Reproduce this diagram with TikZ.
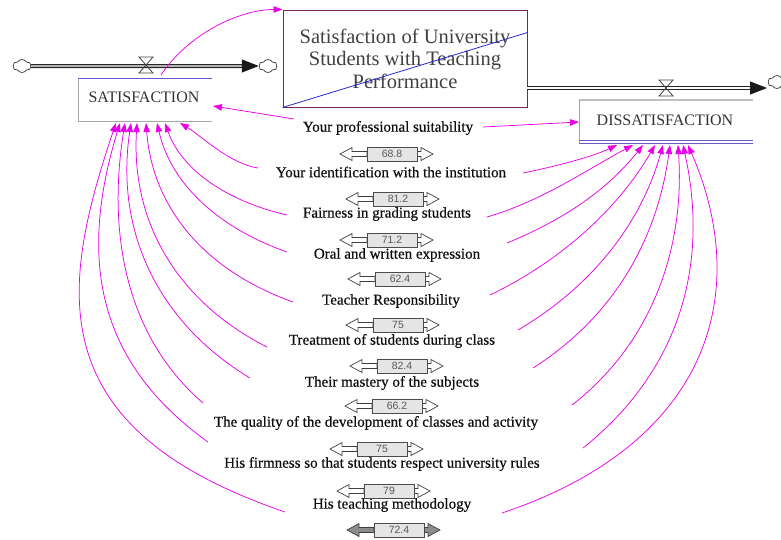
\documentclass[tikz,border=0pt]{standalone}
\usepackage{fontspec}
\setmainfont{Liberation Serif}
\newfontfamily\lblfont{Liberation Serif}[FakeBold=0.5]
\newfontfamily\valfont{Liberation Sans}
\usetikzlibrary{arrows.meta,calc,shapes.symbols}

\definecolor{connc}{RGB}{232,0,232}
\definecolor{titlebord}{RGB}{120,40,80}
\definecolor{diagblue}{RGB}{40,40,210}
\definecolor{stockblue}{RGB}{100,90,205}

\tikzset{
  conn/.style={draw=connc, line width=0.75pt, -{Triangle[length=9pt,width=6.5pt]}},
  lbl/.style={font=\lblfont\fontsize{15}{16}\selectfont, text=black!95, inner sep=0pt},
  valbox/.style={draw=black!70, fill=black!10, minimum width=50pt, minimum height=13.5pt, inner sep=0pt,
    font=\valfont\fontsize{10.5}{11}\selectfont, text=black!65},
  barline/.style={draw=black!75, line width=0.7pt},
  pipe/.style={draw=black!85, double=white, double distance=1.4pt, line width=1.3pt},
  cloudsh/.style={cloud, draw=black!80, fill=white, cloud puffs=6, cloud puff arc=120, aspect=1.5,
    minimum width=18pt, minimum height=13pt, inner sep=0pt, line width=0.7pt},
  valvest/.style={draw=black!75, line width=0.8pt},
  stockline/.style={draw=black!35, line width=0.8pt},
  titlebox/.style={draw=titlebord, line width=1pt, minimum width=244pt, minimum height=97pt,
    align=center, font=\fontsize{20.5}{22.5}\selectfont, text=black!75, inner sep=0pt},
  stocktxt/.style={font=\fontsize{16}{18}\selectfont, text=black!80, inner sep=0pt}
}

% name, x, y (centre of the value box), value, fill of the arrows
\newcommand\valbar[5]{%
  \begin{scope}[shift={(#2,#3)}]
    \draw[barline, fill=#5] (-52,0) -- (-40,-6.5) -- (-40,-2.5) -- (-25,-2.5) -- (-25,2.5) -- (-40,2.5) -- (-40,6.5) -- cycle;
    \draw[barline, fill=#5] (41,0) -- (29,-6.5) -- (29,-2.5) -- (25,-2.5) -- (25,2.5) -- (29,2.5) -- (29,6.5) -- cycle;
    \node[valbox] (#1) at (0,0) {#4};
  \end{scope}}

\begin{document}
\begin{tikzpicture}[x=1pt,y=-1pt]
\useasboundingbox (0,0) rectangle (781,539);

% ---------- title box ----------
\node[titlebox] (title) at (405,58.5) {Satisfaction of University\\Students with Teaching\\Performance};
\coordinate (diagend) at ($(title.north east)+(0,23)$);
\draw[diagblue, line width=0.8pt] (title.south west) -- (diagend);

% ---------- left flow and stock ----------
\node[cloudsh] (cl1) at (22,66) {};
\node[cloudsh] (cl2) at (268,66) {};
\coordinate (p1e) at (242,66);
\draw[pipe] (cl1.east) -- (p1e);
\draw[black!90, line width=1pt, -{Triangle[length=17pt,width=13pt]}] (p1e) -- (cl2.west);
\draw[valvest] (139,57) -- (153,57) -- (139,73) -- (153,73) -- cycle;

\node[stocktxt] (sattxt) at (144,97) {SATISFACTION};
\coordinate (satnw) at (78,78);
\coordinate (satne) at (212,78);
\coordinate (satsw) at (78,121);
\coordinate (satse) at (212,121);
\draw[stockline] (satnw) -- (satsw) -- (satse);
\draw[stockblue, line width=1pt] (satnw) -- (satne);

% ---------- right flow and stock ----------
\coordinate (p2s) at (527,88);
\coordinate (p2e) at (751,88);
\coordinate (p2t) at (767,88);
\draw[pipe] (p2s) -- (p2e);
\draw[black!90, line width=1pt, -{Triangle[length=17pt,width=13pt]}] (p2e) -- (p2t);
\node[cloudsh] (cl3) at (777,82) {};
\draw[valvest] (659,80) -- (673,80) -- (659,96) -- (673,96) -- cycle;

\node[stocktxt] (distxt) at (665,120) {DISSATISFACTION};
\coordinate (disnw) at (579,100);
\coordinate (disne) at (753,100);
\coordinate (dissw) at (579,143);
\coordinate (disse) at (753,143);
\draw[draw=black!25, line width=1.6pt] (disne) -- (disnw);
\draw[stockline] (disnw) -- (dissw);
\draw[stockblue, line width=0.9pt] (dissw) -- (disse);
\draw[stockblue, line width=0.9pt] ($(dissw)+(0,-3)$) -- ($(disse)+(0,-3)$);

% ---------- labels ----------
\node[lbl] (l0) at (388,128) {Your professional suitability};
\node[lbl] (l1) at (391,172) {Your identification with the institution};
\node[lbl] (l2) at (387,214) {Fairness in grading students};
\node[lbl] (l3) at (397,255) {Oral and written expression};
\node[lbl] (l4) at (391,301) {Teacher Responsibility};
\node[lbl] (l5) at (392,341) {Treatment of students during class};
\node[lbl] (l6) at (392,383) {Their mastery of the subjects};
\node[lbl] (l7) at (376,423) {The quality of the development of classes and activity};
\node[lbl] (l8) at (382,464) {His firmness so that students respect university rules};
\node[lbl] (l9) at (392,505) {His teaching methodology};

% ---------- value bars ----------
\valbar{v0}{392}{154}{68.8}{white}
\valbar{v1}{398}{199}{81.2}{white}
\valbar{v2}{392}{240}{71.2}{white}
\valbar{v3}{400}{279}{62.4}{white}
\valbar{v4}{398}{325}{75}{white}
\valbar{v5}{402}{366}{82.4}{white}
\valbar{v6}{397}{406}{66.2}{white}
\valbar{v7}{382}{449}{75}{white}
\valbar{v8}{389}{491}{79}{white}
\valbar{v9}{399}{530}{72.4}{black!45}

% ---------- connectors ----------
% SATISFACTION -> title
\coordinate (st) at (161,75);
\coordinate (tt) at (title.north west);
\draw[conn] (st) .. controls ($(st)+(28,-42)$) and ($(tt)+(-42,0)$) .. (tt);

% professional suitability
\coordinate (a0s) at (294,119);
\coordinate (a0e) at (213,106);
\draw[conn] (a0s) -- (a0e);
\coordinate (b0s) at (483,127);
\coordinate (b0e) at (579,122);
\draw[conn] (b0s) -- (b0e);

% left fan to SATISFACTION
\coordinate (ls1) at (258,168); \coordinate (le1) at (180,123);
\coordinate (ls2) at (287,215); \coordinate (le2) at (165,123);
\coordinate (ls3) at (287,252); \coordinate (le3) at (157,123);
\coordinate (ls4) at (293,302); \coordinate (le4) at (146,123);
\coordinate (ls5) at (267,347); \coordinate (le5) at (137,123);
\coordinate (ls6) at (250,378); \coordinate (le6) at (131,123);
\coordinate (ls7) at (203,403); \coordinate (le7) at (125,123);
\coordinate (ls8) at (208,442); \coordinate (le8) at (120,123);
\coordinate (ls9) at (285,512); \coordinate (le9) at (116,123);
\draw[conn] (ls1) .. controls ($(ls1)+(-28,-4)$) and ($(le1)+(20,12)$) .. (le1);
\draw[conn] (ls2) .. controls ($(ls2)+(-53,-12)$) and ($(le2)+(18,51)$) .. (le2);
\draw[conn] (ls3) .. controls ($(ls3)+(-63,-22)$) and ($(le3)+(15,65)$) .. (le3);
\draw[conn] (ls4) .. controls ($(ls4)+(-84,-30)$) and ($(le4)+(7,89)$) .. (le4);
\draw[conn] (ls5) .. controls ($(ls5)+(-89,-45)$) and ($(le5)+(-6,100)$) .. (le5);
\draw[conn] (ls6) .. controls ($(ls6)+(-93,-56)$) and ($(le6)+(-16,107)$) .. (le6);
\draw[conn] (ls7) .. controls ($(ls7)+(-80,-69)$) and ($(le7)+(-17,105)$) .. (le7);
\draw[conn] (ls8) .. controls ($(ls8)+(-113,-81)$) and ($(le8)+(-41,134)$) .. (le8);
\draw[conn] (ls9) .. controls ($(ls9)+(-246,-84)$) and ($(le9)+(-56,166)$) .. (le9);

% right fan to DISSATISFACTION
\coordinate (rs1) at (523,173); \coordinate (re1) at (617,145);
\coordinate (rs2) at (487,217); \coordinate (re2) at (633,145);
\coordinate (rs3) at (507,243); \coordinate (re3) at (643,145);
\coordinate (rs4) at (490,295); \coordinate (re4) at (655,145);
\coordinate (rs5) at (518,330); \coordinate (re5) at (663,145);
\coordinate (rs6) at (533,368); \coordinate (re6) at (670,145);
\coordinate (rs7) at (572,405); \coordinate (re7) at (678,145);
\coordinate (rs8) at (583,448); \coordinate (re8) at (683,145);
\coordinate (rs9) at (502,513); \coordinate (re9) at (688,145);
\draw[conn] (rs1) .. controls ($(rs1)+(30,-6)$) and ($(re1)+(-25,12)$) .. (re1);
\draw[conn] (rs2) .. controls ($(rs2)+(55,-16)$) and ($(re2)+(-45,24)$) .. (re2);
\draw[conn] (rs3) .. controls ($(rs3)+(58,-24)$) and ($(re3)+(-36,45)$) .. (re3);
\draw[conn] (rs4) .. controls ($(rs4)+(67,-32)$) and ($(re4)+(-38,66)$) .. (re4);
\draw[conn] (rs5) .. controls ($(rs5)+(71,-42)$) and ($(re5)+(-23,82)$) .. (re5);
\draw[conn] (rs6) .. controls ($(rs6)+(80,-51)$) and ($(re6)+(-13,96)$) .. (re6);
\draw[conn] (rs7) .. controls ($(rs7)+(80,-62)$) and ($(re7)+(7,103)$) .. (re7);
\draw[conn] (rs8) .. controls ($(rs8)+(95,-76)$) and ($(re8)+(27,122)$) .. (re8);
\draw[conn] (rs9) .. controls ($(rs9)+(209,-70)$) and ($(re9)+(64,147)$) .. (re9);

\end{tikzpicture}
\end{document}
